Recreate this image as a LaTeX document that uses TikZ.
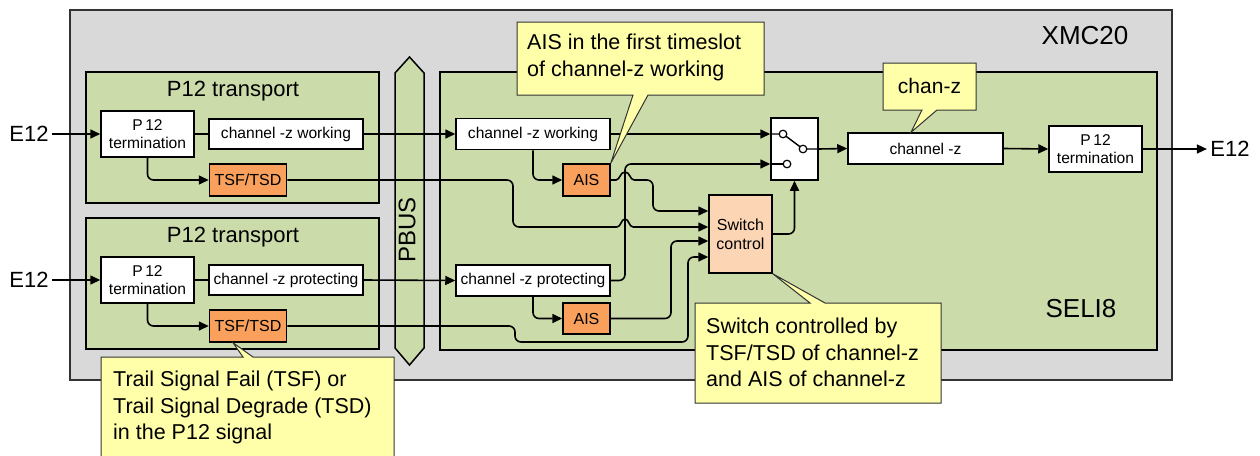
\documentclass[tikz,border=0pt]{standalone}
\usepackage{fontspec}
\setmainfont{Liberation Sans}
\usetikzlibrary{arrows.meta}

\definecolor{cardgray}{RGB}{217,217,217}
\definecolor{boardgreen}{RGB}{204,219,170}
\definecolor{alarmorange}{RGB}{248,160,92}
\definecolor{ctrlpeach}{RGB}{252,213,181}
\definecolor{noteyellow}{RGB}{255,255,170}

\begin{document}
\begin{tikzpicture}[x=1pt,y=-1pt,
    blk/.style={draw=black, line width=1.5pt, fill=white, inner sep=1pt, align=center,
                font=\fontsize{15.6}{18}\selectfont},
    alarm/.style={blk, fill=alarmorange, font=\fontsize{16}{19}\selectfont},
    wire/.style={line width=1.6pt, rounded corners=6pt},
    hop/.style={line width=1.6pt},
    sig/.style={wire, -{Triangle[length=10pt,width=9pt]}},
    note/.style={draw=black!80, line width=1pt, fill=noteyellow},
    notetext/.style={anchor=north west, inner sep=0pt, align=left,
                     font=\fontsize{21.5}{26.5}\selectfont},
    big/.style={font=\fontsize{22}{26}\selectfont}]

    \useasboundingbox (0,0) rectangle (1260,455);

    % XMC20 card
    \filldraw[fill=cardgray, draw=black!80, line width=1.5pt] (70,10) rectangle (1172,380);
    \node[font=\fontsize{26}{30}\selectfont] (xmc) at (1085,36) {XMC20};

    % SELI8 board
    \filldraw[fill=boardgreen, draw=black, line width=1.5pt] (440,72) rectangle (1157,350);
    \node[font=\fontsize{26}{30}\selectfont] (seli) at (1081,309) {SELI8};

    % PBUS
    \filldraw[fill=boardgreen, draw=black, line width=1.5pt]
        (409.5,57) -- (424,73) -- (424,348) -- (409.5,365) -- (395,348) -- (395,73) -- cycle;
    \node[rotate=90, font=\fontsize{24}{28}\selectfont] (pbus) at (407,230) {PBUS};

    % the two P12 transport units on the left
    \foreach \y/\n/\t in {0/w/working, 146/p/protecting}
    {
        \filldraw[fill=boardgreen, draw=black, line width=1.5pt] (86,72+\y) rectangle (379,203+\y);
        \node[big, anchor=base] (tr\n) at (233,96+\y) {P12 transport};
        \node[big] (in\n) at (29,134+\y) {E12};
        \node[blk, minimum width=93, minimum height=46] (pt\n) at (147.5,134+\y) {P\,12\\termination};
        \node[blk, minimum width=154, minimum height=30] (tx\n) at (286,134+\y) {channel -z \t};
        \node[alarm, minimum width=77, minimum height=32] (tsf\n) at (248,180+\y) {TSF/TSD};
        \draw[sig] (in\n.east |- pt\n.west) -- (pt\n.west);
        \draw[wire] (pt\n.east) -- (tx\n.west);
        \draw[sig] (pt\n.south) |- (tsf\n.west);
    }

    % SELI8 blocks
    \node[blk, minimum width=154, minimum height=31] (rxw) at (533,134) {channel -z working};
    \node[alarm, minimum width=47, minimum height=32] (aisw) at (586.5,180) {AIS};
    \node[blk, minimum width=154, minimum height=31] (rxp) at (533,280.5) {channel -z protecting};
    \node[alarm, minimum width=47, minimum height=31] (aisp) at (586.5,318.5) {AIS};
    \node[blk, fill=ctrlpeach, font=\fontsize{16}{19}\selectfont,
          minimum width=63, minimum height=78] (swctl) at (740.5,234) {Switch\\control};
    \node[blk, minimum width=47, minimum height=62] (sel) at (794.5,149) {};
    \node[blk, minimum width=155, minimum height=31] (chz) at (925.5,148.5) {channel -z};
    \node[blk, minimum width=93, minimum height=46] (ptout) at (1095.5,149) {P\,12\\termination};
    \node[big] (outE) at (1230,149) {E12};

    % switch contacts
    \coordinate (selA) at (783,134);
    \coordinate (selB) at (803,149);
    \coordinate (selC) at (787,164);
    \draw[line width=1.4pt] (sel.west |- selA) -- (selA) -- (selB) -- (sel.east |- selB);
    \draw[line width=1.4pt] (sel.west |- selC) -- (selC);
    \foreach \c in {selA,selB,selC}
        \filldraw[fill=white, draw=black, line width=1.2pt] (\c) circle (3.8);

    % channels across the PBUS
    \draw[sig] (txw.east) -- (rxw.west);
    \draw[sig] (txp.east) -- (rxp.west);

    % working and protecting into the switch
    \draw[sig] (rxw.east) -- (sel.west |- rxw.east);
    \draw[sig] (rxw.south) |- (aisw.west);
    \draw[sig] (rxp.south) |- (aisp.west);
    \draw[sig] (rxp.east) -- (625,280.5) -- (625,164) -- (sel.west |- selC);

    % alarms into the switch control, hopping over the protecting line
    \draw[hop] (aisw.east) -- (616,180) .. controls (620,180) and (620,172) .. (625,172)
        .. controls (630,172) and (630,180) .. (634,180);
    \draw[sig] (634,180) -- (653,180) -- (653,211) -- (swctl.west |- 0,211);
    \draw[wire] (tsfw.east) -- (513,180) -- (513,227) -- (617,227);
    \draw[hop] (617,227) .. controls (621,227) and (621,219) .. (625,219)
        .. controls (629,219) and (629,227) .. (633,227);
    \draw[sig] (633,227) -- (swctl.west |- 0,227);
    \draw[sig] (aisp.east) -- (671,318.5) -- (671,241) -- (swctl.west |- 0,241);
    \draw[sig] (tsfp.east) -- (515,326) -- (515,342) -- (688,342) -- (688,257) -- (swctl.west |- 0,257);
    \draw[sig] (swctl.east) -| (sel.south);

    % output side
    \draw[sig] (sel.east) -- (chz.west);
    \draw[sig] (chz.east) -- (ptout.west);
    \draw[sig] (ptout.east) -- (outE.west);

    % callouts
    \filldraw[note] (517,22) -- (764,22) -- (764,95) -- (648,95) -- (aisw.north east)
        -- (633,95) -- (517,95) -- cycle;
    \node[notetext] (noteais) at (527,34) {AIS in the first timeslot\\of channel-z working};

    \filldraw[note] (883,63) -- (976,63) -- (976,110) -- (937,110) -- ([xshift=-14.5pt]chz.north)
        -- (922,110) -- (883,110) -- cycle;
    \node[font=\fontsize{21}{25}\selectfont] (notechz) at (929.5,85.5) {chan-z};

    \filldraw[note] (695,303) -- (810,303) -- (swctl.south east) -- (825,303) -- (941,303)
        -- (941,403) -- (695,403) -- cycle;
    \node[notetext] (noteswc) at (706,318) {Switch controlled by\\TSF/TSD of channel-z\\and AIS of channel-z};

    \filldraw[note] (101,460) -- (101,357) -- (243,357) -- ([xshift=-15pt]tsfp.south)
        -- (253,357) -- (394,357) -- (394,460) -- cycle;
    \node[notetext] (notetsf) at (113,371) {Trail Signal Fail (TSF) or\\Trail Signal Degrade (TSD)\\in the P12 signal};

\end{tikzpicture}
\end{document}
